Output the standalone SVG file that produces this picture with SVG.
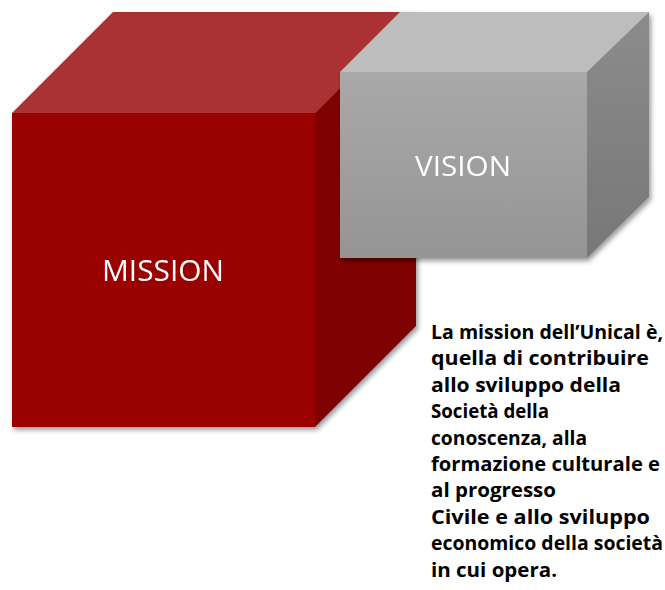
<svg xmlns="http://www.w3.org/2000/svg" width="665" height="590" viewBox="0 0 665 590">
  <defs>
    <filter id="shadow" x="-10%" y="-10%" width="130%" height="130%">
      <feDropShadow dx="2" dy="3" stdDeviation="2.5" flood-color="#000" flood-opacity="0.4"/>
    </filter>
    <linearGradient id="grayFront" x1="0" y1="0" x2="0" y2="1">
      <stop offset="0" stop-color="#a9a9a9"/>
      <stop offset="1" stop-color="#959595"/>
    </linearGradient>
    <linearGradient id="graySide" x1="0" y1="0" x2="0" y2="1">
      <stop offset="0" stop-color="#8c8c8c"/>
      <stop offset="1" stop-color="#777777"/>
    </linearGradient>
    <style>
      .label { font-family: "Open Sans", "Liberation Sans", sans-serif; fill: #ffffff; text-anchor: middle; }
      .body { font-family: "Open Sans", "Liberation Sans", sans-serif; font-weight: 700; font-size: 19px; fill: #000000; }
    </style>
  </defs>

  <!-- Red cube -->
  <g id="mission" filter="url(#shadow)">
    <polygon points="12,113 113,12 416,12 315,113" fill="#ab3232"/>
    <polygon points="315,113 416,12 416,326 315,427" fill="#7f0000"/>
    <rect x="12" y="113" width="303" height="314" fill="#990000"/>
    <text class="label" x="163" y="281" font-size="30" textLength="122" lengthAdjust="spacingAndGlyphs">MISSION</text>
  </g>

  <!-- Gray cube -->
  <g id="vision" filter="url(#shadow)">
    <polygon points="340,72 400,12 649,12 587,72" fill="#bdbdbd"/>
    <polygon points="587,72 649,12 649,197 587,258" fill="url(#graySide)"/>
    <rect x="340" y="72" width="247" height="186" fill="url(#grayFront)"/>
    <text class="label" x="463" y="176" font-size="28" textLength="96" lengthAdjust="spacingAndGlyphs">VISION</text>
  </g>

  <!-- Description -->
  <g id="description">
    <text class="body" x="431" y="339" textLength="232" lengthAdjust="spacingAndGlyphs">La mission dell’Unical è,</text>
    <text class="body" x="431" y="365.4" textLength="218" lengthAdjust="spacingAndGlyphs">quella di contribuire</text>
    <text class="body" x="431" y="391.8" textLength="190" lengthAdjust="spacingAndGlyphs">allo sviluppo della</text>
    <text class="body" x="431" y="418.2" textLength="118" lengthAdjust="spacingAndGlyphs">Società della</text>
    <text class="body" x="431" y="444.6" textLength="156" lengthAdjust="spacingAndGlyphs">conoscenza, alla</text>
    <text class="body" x="431" y="471" textLength="229" lengthAdjust="spacingAndGlyphs">formazione culturale e</text>
    <text class="body" x="431" y="497.4" textLength="125" lengthAdjust="spacingAndGlyphs">al progresso</text>
    <text class="body" x="431" y="523.8" textLength="219" lengthAdjust="spacingAndGlyphs">Civile e allo sviluppo</text>
    <text class="body" x="431" y="550.2" textLength="232" lengthAdjust="spacingAndGlyphs">economico della società</text>
    <text class="body" x="431" y="576.6" textLength="126" lengthAdjust="spacingAndGlyphs">in cui opera.</text>
  </g>
</svg>
